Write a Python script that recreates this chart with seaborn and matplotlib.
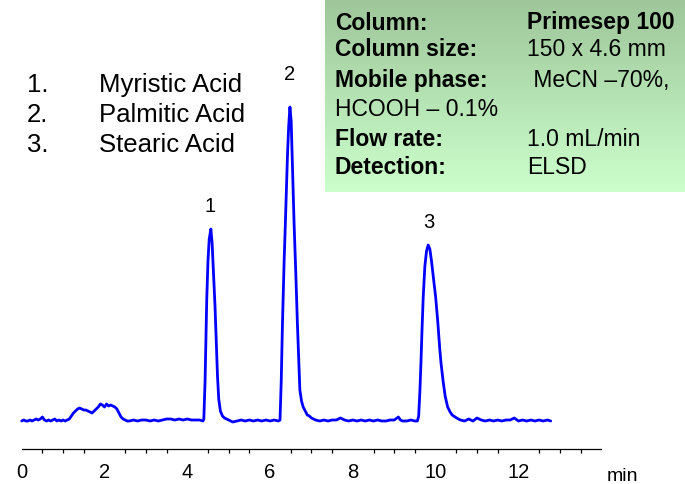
import numpy as np
import pandas as pd
import matplotlib
matplotlib.use("Agg")
import matplotlib.pyplot as plt
from matplotlib.colors import LinearSegmentedColormap
import seaborn as sns

# ---- data (time in min, detector signal in arbitrary units) ----
time_min = [
    0.00, 0.05, 0.10, 0.15, 0.20, 0.25, 0.30, 0.35, 0.40, 0.45, 0.50, 0.55, 0.60, 0.65, 0.70,
    0.75, 0.80, 0.85, 0.90, 0.95, 1.00, 1.05, 1.10,
    1.15, 1.20, 1.25, 1.30, 1.35, 1.40, 1.45, 1.50, 1.55, 1.60, 1.65, 1.70, 1.75, 1.80, 1.85,
    1.90, 1.95, 2.00, 2.05, 2.10, 2.15, 2.20, 2.25, 2.30, 2.35, 2.40, 2.45, 2.50, 2.55,
    2.60, 2.70, 2.80, 2.90, 3.00, 3.10, 3.20, 3.30, 3.40, 3.50, 3.60, 3.70, 3.80, 3.90, 4.00,
    4.10, 4.20, 4.30, 4.38,
    4.40, 4.43, 4.47, 4.50, 4.53, 4.57, 4.60, 4.63, 4.67, 4.70, 4.73, 4.76, 4.80, 4.85, 4.90,
    4.95, 5.00, 5.05,
    5.10, 5.20, 5.30, 5.40, 5.50, 5.60, 5.70, 5.80, 5.90, 6.00, 6.10, 6.20, 6.24,
    6.27, 6.30, 6.34, 6.37, 6.40, 6.42, 6.45, 6.48, 6.51, 6.54, 6.58, 6.62, 6.66, 6.70, 6.72,
    6.76, 6.80, 6.85, 6.90, 6.95, 7.00, 7.05, 7.10,
    7.20, 7.30, 7.40, 7.50, 7.60, 7.70, 7.80, 7.90, 8.00, 8.10, 8.20, 8.30, 8.40, 8.50, 8.60,
    8.70, 8.80, 8.90, 9.00, 9.10, 9.15, 9.20, 9.30, 9.40, 9.50, 9.56,
    9.59, 9.62, 9.645, 9.67, 9.70, 9.74, 9.78, 9.82, 9.86, 9.90, 9.95, 10.00, 10.05, 10.10,
    10.13, 10.18, 10.23, 10.29, 10.35, 10.40, 10.47, 10.55, 10.60,
    10.70, 10.80, 10.90, 11.00, 11.10, 11.20, 11.30, 11.40, 11.50, 11.60, 11.70, 11.80, 11.90,
    12.00, 12.10, 12.20, 12.30, 12.40, 12.50, 12.60, 12.70, 12.78,
]
signal = [
    0, 1, 0, 0, 1, 0, 1, 2, 1, 2, 4, 1, 0, 1, 0,
    1, 2, 0, 1, 0, 1, 0, 1,
    2, 5, 8, 10, 12, 13, 12, 11, 11, 10, 9, 8, 10, 12, 14,
    17, 16, 14, 17, 15, 16, 15, 14, 12, 8, 4, 2, 1, 0,
    0, 1, 0, 1, 1, 0, 1, 0, 1, 2, 2, 1, 2, 1, 2,
    1, 1, 1, 0,
    2, 40, 121, 160, 182, 192, 178, 150, 115, 80, 45, 22, 10, 5, 3,
    2, 1, 0,
    -1, 0, 1, 0, 1, 0, 1, 0, 1, 0, 1, 0, 1,
    40, 98, 160, 198, 240, 265, 295, 314, 300, 255, 198, 150, 98, 55, 31,
    20, 14, 10, 6, 5, 3, 2, 1,
    0, 1, 0, 1, 1, 3, 1, 0, 1, 0, 1, 0, 1, 0, 1,
    0, 0, 1, 1, 4, 1, 0, 0, 1, 0, 0,
    5, 30, 58, 90, 124, 155, 170, 176, 172, 160, 142, 124, 100, 72,
    58, 40, 25, 14, 9, 6, 4, 2, 1,
    0, 2, 0, 3, 1, 0, 1, 0, 1, 0, 1, 1, 3,
    0, 1, 0, 1, 0, 1, 0, 1, 0,
]

peak_labels = ["1", "2", "3"]
peak_times = [4.56, 6.47, 9.84]
peak_label_heights = [215, 346, 199]

compounds = ["Myristic Acid", "Palmitic Acid", "Stearic Acid"]
x_ticks = [0, 2, 4, 6, 8, 10, 12, 14]
x_tick_labels = ["0", "2", "4", "6", "8", "10", "12", ""]

cond_labels = ["Column:", "Column size:", "Mobile phase:", "HCOOH \u2013 0.1%", "Flow rate:", "Detection:"]
cond_values = ["Primesep 100", "150 x 4.6 mm", " MeCN \u201370%,", "", "1.0 mL/min", "ELSD"]
cond_value_bold = [True, False, False, False, False, False]
cond_label_bold = [True, True, True, False, True, True]

df = pd.DataFrame({"time": time_min, "signal": signal})

sns.set_style("white")
plt.rcParams["font.family"] = ["Liberation Sans", "DejaVu Sans"]

W, H = 685, 484
fig = plt.figure(figsize=(W / 100, H / 100), dpi=100)

def fx(px):
    return px / W

def fy(py):
    return 1 - py / H

ax = fig.add_axes([fx(1), 35 / H, 683 / W, 449 / H])
sns.lineplot(data=df, x="time", y="signal", ax=ax, color="#0000ff", linewidth=2.0,
             estimator=None, sort=False)
ax.set_xlim(-0.5, 16)
ax.set_ylim(-28, 421)
ax.set_xlabel("")
ax.set_ylabel("")
ax.set_yticks([])
for s in ["left", "right", "top"]:
    ax.spines[s].set_visible(False)
ax.spines["bottom"].set_bounds(0, 14)
ax.spines["bottom"].set_color("black")
ax.spines["bottom"].set_linewidth(0.9)
ax.set_xticks(x_ticks)
ax.set_xticklabels(x_tick_labels, fontsize=14.5)
ax.set_xticks(np.arange(0, 14.01, 0.5), minor=True)
ax.tick_params(axis="x", which="major", direction="out", length=6, width=0.9, pad=4, colors="black")
ax.tick_params(axis="x", which="minor", direction="out", length=3, width=0.9, colors="black", bottom=True)
ax.patch.set_alpha(0)

for lab, t, h in zip(peak_labels, peak_times, peak_label_heights):
    ax.text(t, h, lab, ha="center", va="center", fontsize=14.5, color="black")

fig.text(fx(622), fy(481), "min", ha="center", va="baseline", fontsize=14, color="black")

# compound list
legend_rows = [85, 115, 145]
for i, (name, py) in enumerate(zip(compounds, legend_rows)):
    fig.text(fx(27), fy(py), f"{i + 1}.", ha="left", va="center", fontsize=18.5, color="black")
    fig.text(fx(99), fy(py), name, ha="left", va="center", fontsize=18.5, color="black")

# conditions box with vertical gradient
bax = fig.add_axes([fx(325), fy(192), fx(360), 192 / H])
cmap = LinearSegmentedColormap.from_list("g", ["#9ec69a", "#ccffcc"])
grad = np.linspace(0, 1, 256).reshape(-1, 1)
bax.imshow(grad, aspect="auto", cmap=cmap, extent=[0, 1, 0, 1], origin="upper")
bax.set_axis_off()

box_rows = [23, 50, 80, 109, 140, 168]
for lab, val, lb, vb, py in zip(cond_labels, cond_values, cond_label_bold, cond_value_bold, box_rows):
    fig.text(fx(335), fy(py), lab, ha="left", va="center", fontsize=16.5,
             weight="bold" if lb else "normal", color="black")
    if val:
        fig.text(fx(527), fy(py), val, ha="left", va="center", fontsize=16.5,
                 weight="bold" if vb else "normal", color="black")

fig.savefig("out.png", dpi=100)
